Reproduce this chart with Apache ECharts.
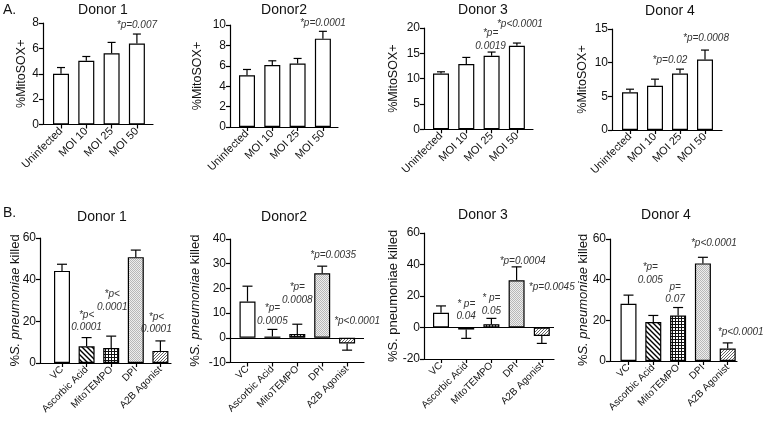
<!DOCTYPE html>
<html><head><meta charset="utf-8">
<script src="https://cdn.jsdelivr.net/npm/echarts@6/dist/echarts.min.js"></script>
<style>html,body{margin:0;padding:0;background:#fff;overflow:hidden}#c{width:763px;height:421px}</style>
</head><body><div id="c"></div>
<script>
// ---------------- DATA ----------------
const catsA = ['Uninfected', 'MOI 10', 'MOI 25', 'MOI 50'];
const catsB = ['VC', 'Ascorbic Acid', 'MitoTEMPO', 'DPI', 'A2B Agonist'];

// Panel A: %MitoSOX+ (mean, error)
const a1Mean = [4.0, 5.02, 5.62, 6.39];     const a1Err = [0.49, 0.34, 0.85, 0.74];
const a2Mean = [5.08, 6.07, 6.23, 8.66];    const a2Err = [0.56, 0.42, 0.49, 0.72];
const a3Mean = [11.02, 12.87, 14.52, 16.5]; const a3Err = [0.33, 1.32, 0.73, 0.53];
const a4Mean = [5.61, 6.56, 8.40, 10.48];   const a4Err = [0.45, 0.99, 0.64, 1.39];

// Panel B: %S. pneumoniae killed (mean, error)
const b1Mean = [44.2, 8.0, 7.2, 50.8, 5.8];   const b1Err = [3.2, 4.2, 5.7, 3.4, 4.8];
const b2Mean = [14.7, 0.5, 1.5, 26.1, -2.3];  const b2Err = [6.2, 2.9, 4.0, 2.9, 2.7];
const b3Mean = [9.4, -1.3, 2.1, 30.0, -5.4];  const b3Err = [4.3, 5.6, 3.7, 8.5, 4.7];
const b4Mean = [28.1, 19.2, 22.4, 48.0, 6.1]; const b4Err = [4.3, 3.2, 3.9, 3.0, 2.8];

// Annotations (p-values)
const a1Ann = ['', '', '', '*p=0.007'];
const a2Ann = ['', '', '', '*p=0.0001'];
const a3Ann = ['', '', '*p=\n0.0019', '*p<0.0001'];
const a4Ann = ['', '', '*p=0.02', '*p=0.0008'];
const b1Ann = ['', '*p<\n0.0001', '*p<\n0.0001', '', '*p<\n0.0001'];
const b2Ann = ['', '*p=\n0.0005', '*p=\n0.0008', '*p=0.0035', '*p<0.0001'];
const b3Ann = ['', '* p=\n0.04', '* p=\n0.05', '*p=0.0004', '*p=0.0045'];
const b4Ann = ['', '*p=\n0.005', 'p=\n0.07', '*p<0.0001', '*p<0.0001'];

// Titles and y-axis ticks
const titles = ['Donor 1', 'Donor2', 'Donor 3', 'Donor 4'];
const yMinA = [0, 0, 0, 0];     const yMaxA = [8, 10, 20, 15];  const yStepA = [2, 2, 5, 5];
const yMinB = [0, -10, -20, 0]; const yMaxB = [60, 40, 60, 60]; const yStepB = [20, 10, 20, 20];

// ---------------- LAYOUT / STYLE ----------------
const FONT = '"Liberation Sans", Arial, Helvetica, sans-serif';
const layA = [
  {left: 43, top: 23, width: 110, height: 101.5, first: 61, step: 25.3, nameGap: 15, tx: 103, ty: 10},
  {left: 230, top: 25, width: 108, height: 102, first: 247, step: 25.3, nameGap: 26, tx: 284, ty: 10},
  {left: 424, top: 28, width: 109, height: 101.3, first: 441, step: 25.3, nameGap: 24, tx: 483, ty: 10},
  {left: 612, top: 29, width: 110, height: 101, first: 630, step: 25, nameGap: 23, tx: 670, ty: 11}
];
const layB = [
  {left: 40, top: 238, width: 131, height: 125, first: 62, step: 24.6, nameGap: 18.5, tx: 102, ty: 217},
  {left: 230, top: 239, width: 134, height: 123.5, first: 247.5, step: 24.9, nameGap: 28.5, tx: 284, ty: 217},
  {left: 424, top: 233, width: 130, height: 126, first: 441, step: 25.2, nameGap: 24.5, tx: 483, ty: 215},
  {left: 610, top: 239, width: 127, height: 122, first: 628.5, step: 24.8, nameGap: 20.5, tx: 666, ty: 215}
];
// annotation nudges [dx, lift above error tip] in px
const nudgeA = [
  [[0,0],[0,0],[0,0],[0,3]],
  [[0,0],[0,0],[0,0],[0,2]],
  [[0,0],[0,0],[-1,0],[3,13]],
  [[0,0],[0,0],[-10,3],[1,6]]
];
const nudgeB = [
  [[0,0],[0,4],[1,23],[0,0],[-4,5]],
  [[0,0],[0,2],[0,18],[11,5],[10,10]],
  [[0,0],[0,5],[0,1],[6,-1],[10,34]],
  [[0,0],[-3,29],[-3,2],[11,8],[13,4]]
];

function pattern(kind) {
  const c = document.createElement('canvas');
  const ctx = c.getContext('2d');
  if (kind === 'stripe') {
    c.width = 5; c.height = 5;
    ctx.fillStyle = '#fff'; ctx.fillRect(0, 0, 5, 5);
    ctx.strokeStyle = '#000'; ctx.lineWidth = 1.4;
    ctx.beginPath();
    ctx.moveTo(-1, -1); ctx.lineTo(6, 6);
    ctx.moveTo(-1, 4); ctx.lineTo(1, 6);
    ctx.moveTo(4, -1); ctx.lineTo(6, 1);
    ctx.stroke();
  } else if (kind === 'grid') {
    c.width = 3; c.height = 3;
    ctx.fillStyle = '#fff'; ctx.fillRect(0, 0, 3, 3);
    ctx.fillStyle = '#111';
    ctx.fillRect(0, 0, 3, 1); ctx.fillRect(0, 0, 1, 3);
  } else if (kind === 'dots') {
    c.width = 2; c.height = 2;
    ctx.fillStyle = '#eeeeee'; ctx.fillRect(0, 0, 2, 2);
    ctx.fillStyle = '#b8b8b8'; ctx.fillRect(0, 0, 1, 1); ctx.fillRect(1, 1, 1, 1);
  } else if (kind === 'hatch') {
    c.width = 3; c.height = 3;
    ctx.fillStyle = '#fff'; ctx.fillRect(0, 0, 3, 3);
    ctx.fillStyle = '#666';
    ctx.fillRect(2, 0, 1, 1); ctx.fillRect(1, 1, 1, 1); ctx.fillRect(0, 2, 1, 1);
  }
  return {image: c, repeat: 'repeat'};
}
const fillsA = ['#fff', '#fff', '#fff', '#fff'];
const fillsB = ['#fff', pattern('stripe'), pattern('grid'), pattern('dots'), pattern('hatch')];

const means = [a1Mean, a2Mean, a3Mean, a4Mean, b1Mean, b2Mean, b3Mean, b4Mean];
const errs = [a1Err, a2Err, a3Err, a4Err, b1Err, b2Err, b3Err, b4Err];
const anns = [a1Ann, a2Ann, a3Ann, a4Ann, b1Ann, b2Ann, b3Ann, b4Ann];
const panels = means.map((m, k) => {
  const A = k < 4, j = k % 4;
  return {cats: A ? catsA : catsB, mean: m, err: errs[k], ann: anns[k], title: titles[j],
    yMin: A ? yMinA[j] : yMinB[j], yMax: A ? yMaxA[j] : yMaxB[j], yStep: A ? yStepA[j] : yStepB[j],
    L: A ? layA[j] : layB[j], nudge: A ? nudgeA[j] : nudgeB[j], fills: A ? fillsA : fillsB,
    kind: A ? 'A' : 'B', cap: A ? 8 : 10, italic: k !== 6};
});

const grid = [], xAxis = [], yAxis = [], series = [], graphic = [];
const AX = {color: '#000', width: 1.2};

panels.forEach((p, gi) => {
  const L = p.L;
  const xmin = -(L.first - L.left) / L.step;
  const xmax = xmin + L.width / L.step;
  const idx = p.cats.map((c, i) => i);
  grid.push({left: L.left, top: L.top, width: L.width, height: L.height});
  xAxis.push({
    type: 'value', gridIndex: gi, min: xmin, max: xmax,
    splitLine: {show: false},
    axisLine: {show: true, onZero: false, lineStyle: AX},
    axisTick: {show: true, inside: false, customValues: idx, length: 4, lineStyle: AX},
    axisLabel: {show: true, customValues: idx, rotate: 45, margin: 5, fontFamily: FONT,
      fontSize: p.kind === 'A' ? 11 : 10, color: '#111',
      formatter: v => p.cats[Math.round(v)]}
  });
  const yName = p.kind === 'A' ? '%MitoSOX+' :
    (p.italic ? '{n|%}{i|S. pneumoniae}{n| killed}' : '{n|%S. pneumoniae killed}');
  yAxis.push({
    type: 'value', gridIndex: gi, min: p.yMin, max: p.yMax, interval: p.yStep,
    splitLine: {show: false},
    axisLine: {show: true, onZero: false, lineStyle: AX},
    axisTick: {show: true, length: 4, lineStyle: AX},
    axisLabel: {fontFamily: FONT, fontSize: 12, color: '#111', margin: 4},
    name: yName, nameLocation: 'middle', nameRotate: 90, nameGap: L.nameGap, nameMoveOverlap: false,
    nameTextStyle: p.kind === 'A' ? {fontFamily: FONT, fontSize: 12.5, color: '#111'} :
      {fontFamily: FONT, fontSize: 13, color: '#111',
       rich: {n: {fontFamily: FONT, fontSize: 13, color: '#111'},
              i: {fontFamily: FONT, fontSize: 13, color: '#111', fontStyle: 'italic'}}}
  });
  const bar = {
    type: 'bar', xAxisIndex: gi, yAxisIndex: gi, barWidth: 16,
    itemStyle: {borderColor: '#000', borderWidth: 1.2},
    data: p.mean.map((m, i) => ({value: [i, m], itemStyle: {color: p.fills[i]}}))
  };
  if (p.yMin < 0) {
    bar.markLine = {symbol: 'none', silent: true, label: {show: false},
      lineStyle: {color: '#000', width: 1.2, type: 'solid'}, data: [{yAxis: 0}]};
  }
  series.push(bar);
  series.push({
    type: 'custom', xAxisIndex: gi, yAxisIndex: gi, clip: false, z: 5,
    data: p.mean.map((m, i) => [i, m, p.err[i]]),
    renderItem: (params, api) => {
      const i = api.value(0), m = api.value(1), e = api.value(2);
      const tip = m >= 0 ? m + e : m - e;
      const b = api.coord([i, m]), t = api.coord([i, tip]), z0 = api.coord([i, 0]);
      const cw = p.cap / 2;
      const ch = [
        {type: 'line', shape: {x1: b[0], y1: b[1], x2: t[0], y2: t[1]}, style: {stroke: '#000', lineWidth: 1.2}},
        {type: 'line', shape: {x1: t[0] - cw, y1: t[1], x2: t[0] + cw, y2: t[1]}, style: {stroke: '#000', lineWidth: 1.2}}
      ];
      const txt = p.ann[i];
      if (txt) {
        const ref = m >= 0 ? t[1] : z0[1];
        const nd = p.nudge[i];
        ch.push({type: 'text', x: b[0] + nd[0], y: ref - nd[1],
          style: {text: txt, fill: '#333', font: 'italic 10px ' + FONT, align: 'center', verticalAlign: 'bottom', lineHeight: 12.5}});
      }
      return {type: 'group', children: ch};
    }
  });
  graphic.push({type: 'text', x: L.tx, y: L.ty,
    style: {text: p.title, fill: '#111', font: '14px ' + FONT, align: 'center', verticalAlign: 'middle'}});
});
graphic.push({type: 'text', x: 3, y: 10, style: {text: 'A.', fill: '#111', font: '14px ' + FONT, verticalAlign: 'middle'}});
graphic.push({type: 'text', x: 3, y: 213, style: {text: 'B.', fill: '#111', font: '14px ' + FONT, verticalAlign: 'middle'}});

const chart = echarts.init(document.getElementById('c'), null, {renderer: 'canvas'});
chart.setOption({animation: false, backgroundColor: '#fff', grid, xAxis, yAxis, series, graphic});
</script>
</body></html>
